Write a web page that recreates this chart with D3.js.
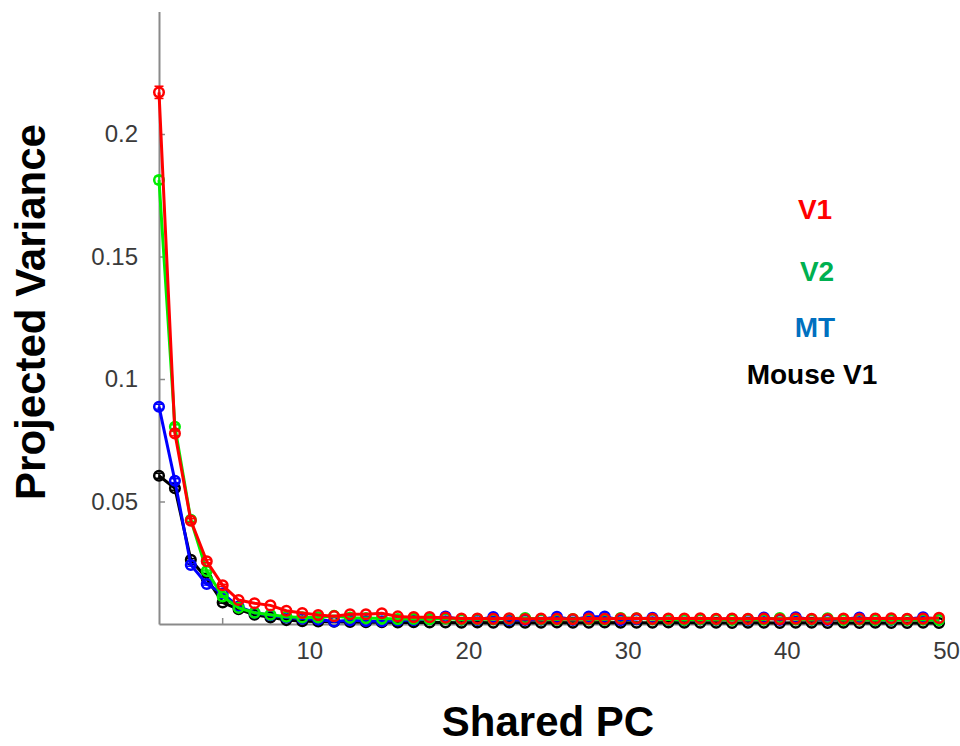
<!DOCTYPE html>
<html>
<head>
<meta charset="utf-8">
<script src="https://cdn.jsdelivr.net/npm/d3@7"></script>
<style>
  html, body { margin: 0; padding: 0; background: #ffffff; }
  svg { display: block; }
</style>
</head>
<body>
<svg id="chart" width="960" height="746"></svg>
<script>
// ---------------- DATA ----------------
const pcs = d3.range(1, 51); // Shared PC 1..50
const seriesNames = ["V1", "V2", "MT", "Mouse V1"];
const xTickValues = [10, 20, 30, 40, 50];
const yTickValues = [0.05, 0.1, 0.15, 0.2];

const v1Values = [0.2170, 0.0778, 0.0422, 0.0256, 0.0158, 0.0098, 0.0085, 0.0076, 0.0054, 0.0045,
  0.0037, 0.0032, 0.0040, 0.0040, 0.0044, 0.0031, 0.0028, 0.0028, 0.0026, 0.0022,
  0.0022, 0.0021, 0.0023, 0.0020, 0.0022, 0.0021, 0.0020, 0.0022, 0.0021, 0.0022,
  0.0023, 0.0021, 0.0022, 0.0022, 0.0023, 0.0021, 0.0022, 0.0021, 0.0022, 0.0020,
  0.0022, 0.0021, 0.0020, 0.0022, 0.0021, 0.0022, 0.0023, 0.0021, 0.0022, 0.0025];
const v2Values = [0.1812, 0.0805, 0.0425, 0.0216, 0.0112, 0.0066, 0.0046, 0.0038, 0.0030, 0.0027,
  0.0027, 0.0033, 0.0026, 0.0024, 0.0022, 0.0020, 0.0021, 0.0019, 0.0022, 0.0018,
  0.0020, 0.0019, 0.0021, 0.0024, 0.0019, 0.0018, 0.0020, 0.0019, 0.0018, 0.0024,
  0.0023, 0.0019, 0.0018, 0.0017, 0.0019, 0.0018, 0.0017, 0.0019, 0.0018, 0.0024,
  0.0019, 0.0018, 0.0023, 0.0017, 0.0018, 0.0017, 0.0018, 0.0017, 0.0018, 0.0016];
const mtValues = [0.0887, 0.0585, 0.0241, 0.0163, 0.0125, 0.0071, 0.0046, 0.0036, 0.0027, 0.0022,
  0.0018, 0.0010, 0.0015, 0.0012, 0.0011, 0.0014, 0.0016, 0.0020, 0.0030, 0.0018,
  0.0017, 0.0028, 0.0016, 0.0017, 0.0018, 0.0029, 0.0017, 0.0030, 0.0030, 0.0016,
  0.0020, 0.0025, 0.0018, 0.0017, 0.0019, 0.0018, 0.0020, 0.0017, 0.0026, 0.0017,
  0.0027, 0.0018, 0.0017, 0.0019, 0.0026, 0.0018, 0.0017, 0.0019, 0.0027, 0.0018];
const mouseV1Values = [0.0605, 0.0554, 0.0262, 0.0186, 0.0088, 0.0060, 0.0038, 0.0027, 0.0016, 0.0011,
  0.0010, 0.0009, 0.0008, 0.0007, 0.0007, 0.0006, 0.0007, 0.0006, 0.0006, 0.0005,
  0.0006, 0.0005, 0.0006, 0.0005, 0.0005, 0.0006, 0.0005, 0.0005, 0.0006, 0.0005,
  0.0005, 0.0005, 0.0006, 0.0005, 0.0005, 0.0005, 0.0004, 0.0005, 0.0005, 0.0004,
  0.0005, 0.0005, 0.0004, 0.0005, 0.0004, 0.0005, 0.0004, 0.0004, 0.0005, 0.0004];
// error (SEM) for leading PCs; remaining PCs negligible
const v1Err = [0.0025, 0.0010, 0.0008, 0.0006, 0.0004];
const v2Err = [0.0015, 0.0008, 0.0006, 0.0004, 0.0003];
const mtErr = [0.0010, 0.0008, 0.0005, 0.0004, 0.0003];
const mouseV1Err = [0.0010, 0.0008, 0.0005, 0.0004, 0.0003];

const lineColors = ["#ff0000", "#00ee00", "#0000ff", "#000000"];
const labelColors = ["#ff0000", "#00b050", "#0070c0", "#000000"];

// ---------------- CHART ----------------
const svg = d3.select("#chart");
const x = d3.scaleLinear().domain([1, 50]).range([159, 939]);
const y = d3.scaleLinear().domain([0, 0.25]).range([624, 11.5]);

const series = [
  { name: seriesNames[0], values: v1Values, err: v1Err, color: lineColors[0], label: labelColors[0] },
  { name: seriesNames[1], values: v2Values, err: v2Err, color: lineColors[1], label: labelColors[1] },
  { name: seriesNames[2], values: mtValues, err: mtErr, color: lineColors[2], label: labelColors[2] },
  { name: seriesNames[3], values: mouseV1Values, err: mouseV1Err, color: lineColors[3], label: labelColors[3] }
];

const axisColor = "#8a8a8a";
const tickTextColor = "#3a3a3a";
const fontFam = "Liberation Sans, Arial, sans-serif";

// Y axis
const yAxis = svg.append("g")
  .attr("transform", `translate(${x(1)},0)`)
  .call(d3.axisLeft(y).tickValues(yTickValues).tickSizeInner(-6).tickSizeOuter(0)
    .tickPadding(21).tickFormat(d => String(d)));
yAxis.select(".domain").attr("stroke", axisColor).attr("stroke-width", 2);
yAxis.selectAll(".tick line").attr("stroke", axisColor).attr("stroke-width", 1.5);
yAxis.selectAll(".tick text").attr("fill", tickTextColor)
  .style("font-family", fontFam).style("font-size", "24px");

// X axis
const xAxis = svg.append("g")
  .attr("transform", `translate(0,${y(0)})`)
  .call(d3.axisBottom(x).tickValues(xTickValues).tickSizeInner(0).tickSizeOuter(0)
    .tickPadding(18).tickFormat(d => String(d)));
xAxis.select(".domain").attr("stroke", axisColor).attr("stroke-width", 2);
xAxis.selectAll(".tick text").attr("fill", tickTextColor).attr("dx", 7)
  .style("font-family", fontFam).style("font-size", "24px");
// inward x tick marks
svg.append("g").selectAll("line").data([5].concat(xTickValues)).join("line")
  .attr("x1", d => x(d)).attr("x2", d => x(d))
  .attr("y1", y(0)).attr("y2", y(0) - 6)
  .attr("stroke", axisColor).attr("stroke-width", 1.5);

// Lines, markers, error bars (draw order: Mouse V1, MT, V2, V1 on top)
const line = d3.line().x((d, i) => x(pcs[i])).y(d => y(d));
const drawOrder = [3, 2, 1, 0];
drawOrder.forEach(si => {
  const s = series[si];
  const g = svg.append("g");
  g.append("path").datum(s.values)
    .attr("d", line).attr("fill", "none")
    .attr("stroke", s.color).attr("stroke-width", 3);
  const errs = s.err.map((e, i) => ({ pc: pcs[i], v: s.values[i], e }));
  g.selectAll("line.err").data(errs).join("line")
    .attr("x1", d => x(d.pc)).attr("x2", d => x(d.pc))
    .attr("y1", d => y(d.v - d.e)).attr("y2", d => y(d.v + d.e))
    .attr("stroke", s.color).attr("stroke-width", 1.5);
  ["lo", "hi"].forEach(k => {
    g.selectAll("line.cap" + k).data(errs).join("line")
      .attr("x1", d => x(d.pc) - 4.5).attr("x2", d => x(d.pc) + 4.5)
      .attr("y1", d => y(k === "lo" ? d.v - d.e : d.v + d.e))
      .attr("y2", d => y(k === "lo" ? d.v - d.e : d.v + d.e))
      .attr("stroke", s.color).attr("stroke-width", 1.5);
  });
  g.selectAll("circle").data(s.values).join("circle")
    .attr("cx", (d, i) => x(pcs[i])).attr("cy", d => y(d))
    .attr("r", 4.8).attr("fill", "none")
    .attr("stroke", s.color).attr("stroke-width", 2.5);
});

// Legend text
const legendPos = [[815, 219], [817, 281], [815, 337], [812, 384]];
series.forEach((s, i) => {
  svg.append("text")
    .attr("x", legendPos[i][0]).attr("y", legendPos[i][1])
    .attr("text-anchor", "middle")
    .attr("fill", s.label)
    .style("font-family", fontFam)
    .style("font-weight", "bold").style("font-size", "28px")
    .text(s.name);
});

// Axis titles
svg.append("text")
  .attr("transform", "translate(45,312) rotate(-90)")
  .attr("text-anchor", "middle").attr("fill", "#000")
  .style("font-family", fontFam)
  .style("font-weight", "bold").style("font-size", "42px")
  .text("Projected Variance");
svg.append("text")
  .attr("x", 548).attr("y", 736)
  .attr("text-anchor", "middle").attr("fill", "#000")
  .style("font-family", fontFam)
  .style("font-weight", "bold").style("font-size", "42px")
  .text("Shared PC");
</script>
</body>
</html>
